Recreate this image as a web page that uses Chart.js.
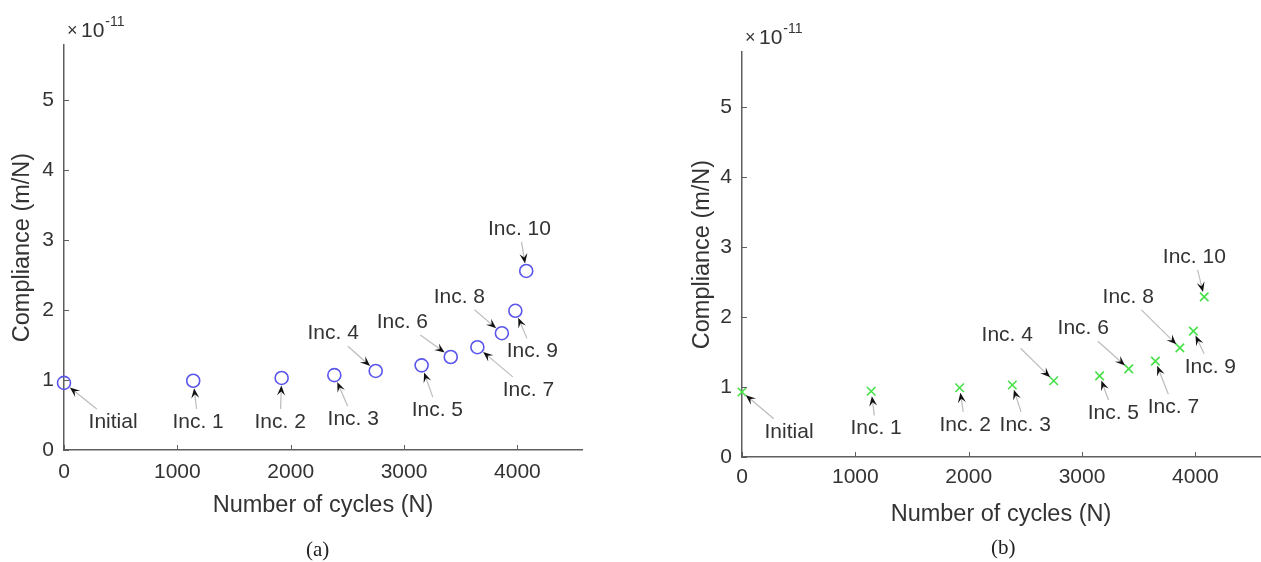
<!DOCTYPE html>
<html>
<head>
<meta charset="utf-8">
<script src="https://cdn.jsdelivr.net/npm/chart.js@4/dist/chart.umd.min.js"></script>
<style>
  body { margin: 0; background: #fff; width: 1261px; height: 562px; overflow: hidden; position: relative; }
  .panel { position: absolute; top: 0; height: 562px; }
  #wrapA { left: 0; width: 610px; }
  #wrapB { left: 640px; width: 632px; }
  .cap { position: absolute; font-family: "Liberation Serif", "DejaVu Serif", serif; font-size: 21px; color: #222; }
</style>
</head>
<body>
<div class="panel" id="wrapA"><canvas id="chartA"></canvas></div>
<div class="panel" id="wrapB"><canvas id="chartB"></canvas></div>
<div class="cap" style="left:306px;top:537px">(a)</div>
<div class="cap" style="left:991px;top:535px">(b)</div>
<script>
// cycle counts at each increment (same for both panels)
const cycles = [0, 1140, 1920, 2385, 2750, 3155, 3412, 3647, 3863, 3982, 4078]
const incLabels = ["Initial", "Inc. 1", "Inc. 2", "Inc. 3", "Inc. 4", "Inc. 5", "Inc. 6", "Inc. 7", "Inc. 8", "Inc. 9", "Inc. 10"]

// compliance, in units of 1e-11 m/N
const complianceA = [0.96, 0.99, 1.03, 1.07, 1.13, 1.21, 1.33, 1.47, 1.67, 1.99, 2.56]
const complianceB = [0.93, 0.94, 0.99, 1.03, 1.09, 1.16, 1.26, 1.37, 1.56, 1.80, 2.29]

// where each annotation text sits, in data units
const labelXA = [433, 1183, 1907, 2552, 2375, 3294, 2985, 4097, 3488, 4132, 4018]
const labelYA = [0.40, 0.40, 0.40, 0.44, 1.67, 0.57, 1.83, 0.86, 2.19, 1.41, 3.16]
const labelXB = [415, 1183, 1969, 2499, 2340, 3276, 3011, 3806, 3408, 4132, 3991]
const labelYB = [0.36, 0.41, 0.46, 0.46, 1.74, 0.63, 1.84, 0.71, 2.29, 1.29, 2.86]

const xTicks = [0, 1000, 2000, 3000, 4000]
const yTicks = [0, 1, 2, 3, 4, 5]

const FONT = '"Liberation Sans", Arial, sans-serif'
const TEXT = '#333'
const AXIS = '#5e5e5e'

Chart.defaults.font.family = FONT
Chart.defaults.color = TEXT

// MATLAB style: ticks pointing into the plot
const innerTicks = {
    id: 'innerTicks',
    afterDraw(chart) {
        const ctx = chart.ctx
        const { x, y } = chart.scales
        const area = chart.chartArea
        ctx.save()
        ctx.strokeStyle = AXIS
        ctx.lineWidth = 1
        x.ticks.forEach(t => {
            const px = Math.round(x.getPixelForValue(t.value)) + 0.5
            ctx.beginPath()
            ctx.moveTo(px, area.bottom)
            ctx.lineTo(px, area.bottom - 5)
            ctx.stroke()
        })
        y.ticks.forEach(t => {
            const py = Math.round(y.getPixelForValue(t.value)) + 0.5
            ctx.beginPath()
            ctx.moveTo(area.left, py)
            ctx.lineTo(area.left + 5, py)
            ctx.stroke()
        })
        // x10^-11 multiplier
        const x0 = area.left + 3
        ctx.fillStyle = TEXT
        ctx.textBaseline = 'alphabetic'
        ctx.textAlign = 'left'
        ctx.font = '18px ' + FONT
        ctx.fillText('\u00d7', x0, area.top - 9)
        ctx.font = '21px ' + FONT
        ctx.fillText('10', x0 + 14, area.top - 8)
        const w10 = ctx.measureText('10').width
        ctx.font = '14px ' + FONT
        ctx.fillText('-11', x0 + 15 + w10, area.top - 19)
        ctx.restore()
    }
}

// text + arrow annotations
const arrows = {
    id: 'arrows',
    afterDatasetsDraw(chart, args, opts) {
        const ctx = chart.ctx
        const { x, y } = chart.scales
        const vals = chart.data.datasets[0].data
        ctx.save()
        ctx.font = '21px ' + FONT
        ctx.textAlign = 'center'
        ctx.textBaseline = 'middle'
        vals.forEach((d, i) => {
            const px = x.getPixelForValue(d.x)
            const py = y.getPixelForValue(d.y)
            const tx = x.getPixelForValue(opts.lx[i])
            const ty = y.getPixelForValue(opts.ly[i])
            ctx.fillStyle = TEXT
            ctx.fillText(incLabels[i], tx, ty)

            const hw = ctx.measureText(incLabels[i]).width / 2 + 3
            const hh = 13
            let dx = px - tx, dy = py - ty
            const len = Math.hypot(dx, dy)
            dx /= len; dy /= len
            const s = Math.min(hw / Math.max(Math.abs(dx), 1e-6), hh / Math.max(Math.abs(dy), 1e-6))
            const sx = tx + dx * s, sy = ty + dy * s
            const ex = px - dx * opts.gap, ey = py - dy * opts.gap
            const headLen = 10, headW = 4, notch = 6
            const nx = ex - dx * notch, ny = ey - dy * notch

            ctx.strokeStyle = '#bcbcbc'
            ctx.lineWidth = 1.2
            ctx.beginPath()
            ctx.moveTo(sx, sy)
            ctx.lineTo(nx, ny)
            ctx.stroke()

            const bx = ex - dx * headLen, by = ey - dy * headLen
            ctx.fillStyle = '#111'
            ctx.beginPath()
            ctx.moveTo(ex, ey)
            ctx.lineTo(bx - dy * headW, by + dx * headW)
            ctx.lineTo(nx, ny)
            ctx.lineTo(bx + dy * headW, by - dx * headW)
            ctx.closePath()
            ctx.fill()
        })
        ctx.restore()
    }
}

const makePanel = (id, values, lx, ly, marker, pad, xHeight, tickPad, yTitlePad) => {
    const points = cycles.map((c, i) => ({ x: c, y: values[i] }))
    return new Chart(document.getElementById(id), {
        type: 'scatter',
        data: {
            datasets: [{
                data: points,
                clip: false,
                ...marker
            }]
        },
        options: {
            responsive: true,
            maintainAspectRatio: false,
            animation: false,
            events: [],
            layout: { padding: pad },
            plugins: {
                legend: { display: false },
                tooltip: { enabled: false },
                arrows: { lx: lx, ly: ly, gap: marker.gap }
            },
            scales: {
                x: {
                    type: 'linear',
                    min: 0,
                    max: 4570,
                    afterBuildTicks: s => { s.ticks = xTicks.map(v => ({ value: v })) },
                    ticks: { font: { size: 21 }, color: TEXT, padding: tickPad, maxRotation: 0, includeBounds: false, callback: v => String(v) },
                    grid: { display: false, drawTicks: false },
                    border: { display: true, color: AXIS, width: 1.5 },
                    title: { display: true, text: 'Number of cycles (N)', font: { size: 23.5 }, color: TEXT, padding: { top: 0, bottom: 0 } },
                    afterFit: s => { s.height = xHeight }
                },
                y: {
                    type: 'linear',
                    min: 0,
                    max: 5.79,
                    afterBuildTicks: s => { s.ticks = yTicks.map(v => ({ value: v })) },
                    ticks: { font: { size: 21 }, color: TEXT, padding: 10, includeBounds: false, callback: v => String(v) },
                    grid: { display: false, drawTicks: false },
                    border: { display: true, color: AXIS, width: 1.5 },
                    title: { display: true, text: 'Compliance (m/N)', font: { size: 23.5 }, color: TEXT, padding: { top: yTitlePad, bottom: 0 } },
                    afterFit: s => { s.width = 64 }
                }
            }
        },
        plugins: [innerTicks, arrows]
    })
}

makePanel('chartA', complianceA, labelXA, labelYA,
    { pointStyle: 'circle', pointRadius: 6.5, pointBorderWidth: 1.6, pointBorderColor: 'rgb(90,85,235)', pointBackgroundColor: 'rgba(0,0,0,0)', gap: 7.5 },
    { left: 0, top: 45, right: 28, bottom: 42 }, 70, 10, 8)

makePanel('chartB', complianceB, labelXB, labelYB,
    { pointStyle: 'crossRot', pointRadius: 6, pointBorderWidth: 1.6, pointBorderColor: 'rgb(70,225,70)', pointBackgroundColor: 'rgba(0,0,0,0)', gap: 5 },
    { left: 38, top: 52, right: 12, bottom: 33 }, 72, 8, 10)
</script>
</body>
</html>
